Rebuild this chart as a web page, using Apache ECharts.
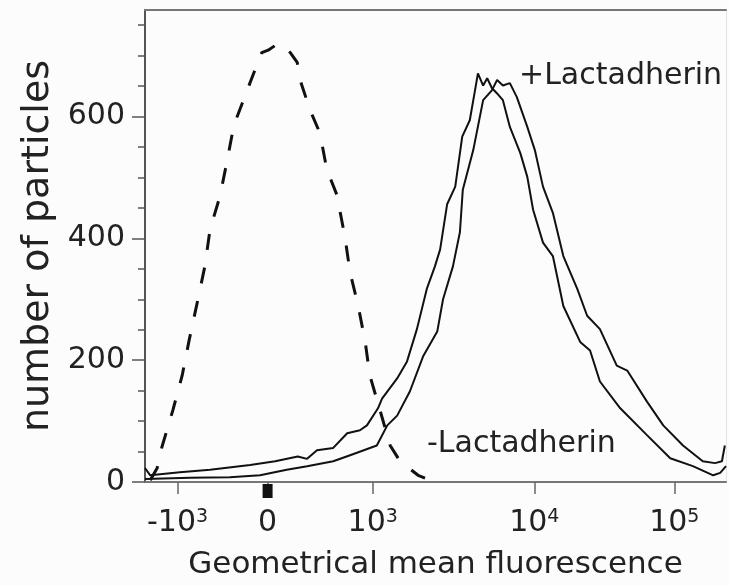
<!DOCTYPE html>
<html lang="en">
<head>
<meta charset="UTF-8">
<title>Particle fluorescence histogram</title>
<script src="https://cdn.jsdelivr.net/npm/echarts@6/dist/echarts.min.js"></script>
<style>
  html, body { margin: 0; padding: 0; background: #fdfcfc; }
  #main { width: 729px; height: 585px; }
</style>
</head>
<body>
<div id="main"></div>
<script>
// x in display channels (0..1000, biexponential display scale), y in particle counts
const tickChannels = [56, 211, 392, 670, 911];
const tickLabels = ['-10{s|3}', '0', '10{s|3}', '10{s|4}', '10{s|5}'];
const zeroChannel = 211;
const yMajor = [0, 200, 400, 600];
const yMinor = [50, 100, 150, 250, 300, 350, 450, 500, 550, 650, 700, 750];

// dashed curve (unlabelled control)
const controlX = [9, 21, 29, 48, 64, 76, 90, 103, 112, 129, 141, 153, 177, 189, 201, 212, 226, 238, 250, 262, 267, 284, 301, 313, 330, 344, 353, 367, 379, 387, 405, 422, 439, 470, 491];
const controlY = [3, 23, 57, 118, 175, 233, 295, 354, 415, 469, 526, 586, 646, 676, 705, 709, 718, 718, 705, 689, 660, 611, 573, 513, 472, 403, 344, 289, 230, 175, 116, 60, 34, 11, 3];

// solid curve, left (-Lactadherin)
const minusX = [0, 9, 60, 112, 181, 224, 263, 279, 296, 324, 348, 370, 382, 401, 408, 434, 451, 468, 485, 499, 508, 520, 534, 546, 559, 568, 573, 582, 589, 597, 606, 616, 628, 646, 658, 668, 685, 702, 720, 749, 766, 783, 818, 864, 904, 943, 978, 990, 1000];
const minusY = [23, 11, 16, 20, 28, 34, 42, 38, 52, 56, 80, 85, 93, 121, 137, 170, 198, 251, 317, 354, 382, 456, 485, 567, 594, 643, 671, 651, 663, 647, 638, 627, 583, 540, 501, 447, 393, 371, 289, 230, 216, 165, 121, 77, 39, 26, 11, 15, 26];

// solid curve, right (+Lactadherin)
const plusX = [0, 78, 146, 198, 244, 279, 324, 353, 399, 417, 434, 456, 479, 503, 513, 530, 542, 547, 565, 582, 597, 606, 616, 628, 640, 658, 671, 685, 702, 720, 744, 761, 783, 812, 830, 864, 892, 926, 960, 981, 993, 998];
const plusY = [5, 7, 8, 11, 20, 26, 34, 44, 60, 93, 109, 149, 207, 247, 300, 354, 410, 480, 545, 627, 643, 660, 651, 655, 632, 583, 545, 485, 442, 371, 317, 273, 251, 191, 183, 132, 93, 60, 34, 31, 34, 60];

function pairs(xs, ys) {
  return xs.map((x, i) => [x, ys[i]]);
}

const font = 'DejaVu Sans';
const ink = '#222';

let myChart = echarts.init(document.getElementById('main'));

let option = {
  backgroundColor: '#fdfcfc',
  animation: false,
  grid: { left: 145, right: 3, top: 10, bottom: 101, show: false },
  xAxis: [
    {
      type: 'value', min: 0, max: 1000, position: 'bottom',
      axisLine: { onZero: false, lineStyle: { color: '#777', width: 2 } },
      axisTick: { customValues: tickChannels, length: 12, lineStyle: { color: '#666', width: 1.5 } },
      axisLabel: {
        customValues: tickChannels,
        formatter: v => tickLabels[tickChannels.indexOf(v)],
        fontFamily: font, fontSize: 30, color: ink, margin: 26, lineHeight: 30,
        rich: { s: { fontFamily: font, fontSize: 19, color: ink, verticalAlign: 'top', lineHeight: 30 } }
      },
      splitLine: { show: false },
      name: 'Geometrical mean fluorescence', nameLocation: 'middle', nameGap: 67,
      nameTextStyle: { fontFamily: font, fontSize: 31, color: ink }
    },
    {
      // top frame line
      type: 'value', min: 0, max: 1000, position: 'top',
      axisLine: { show: true, onZero: false, lineStyle: { color: '#777', width: 2 } },
      axisTick: { show: false }, axisLabel: { show: false }, splitLine: { show: false }
    }
  ],
  yAxis: [
    {
      type: 'value', min: 0, max: 775, position: 'left',
      axisLine: { show: true, onZero: false, lineStyle: { color: '#555', width: 2 } },
      axisTick: { show: true, customValues: yMajor, length: 13, lineStyle: { color: '#555', width: 1.5 } },
      axisLabel: { customValues: yMajor, fontFamily: font, fontSize: 30, color: ink, margin: 20 },
      splitLine: { show: false },
      name: 'number of particles', nameLocation: 'middle', nameGap: 88,
      nameTextStyle: { fontFamily: font, fontSize: 38, color: ink }
    },
    {
      // minor ticks
      type: 'value', min: 0, max: 775, position: 'left', offset: 0,
      axisLine: { show: false, onZero: false },
      axisTick: { show: true, customValues: yMinor, length: 7, lineStyle: { color: '#555', width: 1.5 } },
      axisLabel: { show: false },
      splitLine: { show: false }
    },
    {
      // faint right frame line
      type: 'value', min: 0, max: 775, position: 'right',
      axisLine: { show: true, onZero: false, lineStyle: { color: '#e4e4e4', width: 1 } },
      axisTick: { show: false }, axisLabel: { show: false }, splitLine: { show: false }
    }
  ],
  series: [
    {
      name: 'control', type: 'line', data: pairs(controlX, controlY), showSymbol: false,
      lineStyle: { color: '#111', width: 3, type: [16, 18] },
      markPoint: {
        silent: true,
        symbol: 'rect', symbolSize: [10, 14], symbolOffset: [0, 9],
        itemStyle: { color: '#111' },
        label: { show: false },
        data: [{ coord: [zeroChannel, 0] }]
      }
    },
    {
      name: '-Lactadherin', type: 'line', data: pairs(minusX, minusY), showSymbol: false,
      lineStyle: { color: '#111', width: 2 }
    },
    {
      name: '+Lactadherin', type: 'line', data: pairs(plusX, plusY), showSymbol: false,
      lineStyle: { color: '#111', width: 2 }
    }
  ],
  graphic: [
    { type: 'text', left: 519, top: 61, style: { text: '+Lactadherin', font: '30px "DejaVu Sans"', fill: ink } },
    { type: 'text', left: 427, top: 429, style: { text: '-Lactadherin', font: '30px "DejaVu Sans"', fill: ink } }
  ]
};

myChart.setOption(option);
</script>
</body>
</html>
